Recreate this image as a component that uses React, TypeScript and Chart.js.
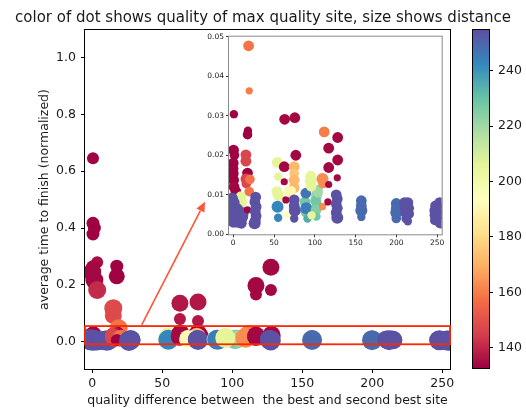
import React, { useEffect, useRef } from "react";
import { Chart, registerables } from "chart.js";
Chart.register(...registerables);

const FONT = '"DejaVu Sans", sans-serif';
const TEXT = "#1a1a1a";

const TITLE = "color of dot shows quality of max quality site, size shows distance";
const X_LABEL = "quality difference between  the best and second best site";
const Y_LABEL = "average time to finish (normalized)";

const xTicks = [0, 50, 100, 150, 200, 250];
const yTicks = [0, 0.2, 0.4, 0.6, 0.8, 1.0];
const insetYTicks = [0, 0.01, 0.02, 0.03, 0.04, 0.05];
const colorbarTicks = [140, 160, 180, 200, 220, 240];

// quality difference between best and second best site (x)
const qualityDiff = [
  0.5, 0.5, 1.5, 0.5, 3.5, 0.5, 0, 1.5, 3.5, 0.8, 0.4, 1.5, 0, 0.5, 0, 0.5, 1, 3.2, 9.3, 11.4, 8, 12,
  -1.5, 0.5, -2, 1.5, -1, 3, 0.5, 5, 7, 8.5, 10, 12.5, 11, 6, 9.8,
  17.5, 17.5, 15, 15, 18.8, 19.6, 18, 17.5, 15.5, 15.5, 17.5, 15.5, 16, 20.5, 19.6, 17.5,
  27.5, 26.5, 28, 27, 28, 27, 26.2,
  54.3, 54, 55, 53.5, 55.5, 54.3, 55,
  62.6, 62.6, 63, 62.5, 62.5, 64.5, 66.5, 68.6,
  75.5, 75.5, 75.5, 76.7, 74.7, 74.7, 74.7, 74.7, 71, 74.7, 74.7, 75.5, 74.7,
  88, 88.9, 91, 89, 89.5,
  103, 102, 101, 103, 101.5, 102, 104,
  95, 95, 95.5, 96,
  111.5, 109.4, 110, 109.4,
  116.9, 116.9, 117, 117, 117, 116,
  127.6, 127.6, 128, 128, 127.5, 127.5, 126.2, 127.5, 126.2, 127.5, 126.2, 127.5,
  157, 157, 157, 157,
  199.8, 199.8, 199.8, 199.8,
  210, 214, 211, 215, 212, 215, 212, 214,
  248, 253, 247, 254, 248, 254, 247, 254,
];

// average time to finish, normalized (y)
const avgTime = [
  0.646, 0.417, 0.4, 0.379, 0.28, 0.262, 0.245, 0.217, 0.182, 0.0304, 0.0213, 0.02, 0.018, 0.0166, 0.0154, 0.0137, 0.012, 0.0108, 0.0095, 0.0082, 0.007, 0.006,
  0.009, 0.008, 0.0068, 0.0058, 0.0048, 0.004, 0.0032, 0.0065, 0.005, 0.0038, 0.0028, 0.0055, 0.0045, 0.003, 0.004,
  0.266, 0.23, 0.118, 0.092, 0.0477, 0.0363, 0.0262, 0.0252, 0.0201, 0.0185, 0.0155, 0.014, 0.0128, 0.0139, 0.0108, 0.0062,
  0.0094, 0.0082, 0.007, 0.0058, 0.0046, 0.0035, 0.0028,
  0.0104, 0.0182, 0.0146, 0.0108, 0.0098, 0.007, 0.0042,
  0.135, 0.08, 0.0291, 0.0171, 0.0133, 0.0087, 0.0049, 0.0108,
  0.14, 0.073, 0.0295, 0.02, 0.0171, 0.0154, 0.0137, 0.0118, 0.011, 0.0087, 0.0072, 0.006, 0.004,
  0.0082, 0.0055, 0.004, 0.0104, 0.0066,
  0.0112, 0.0098, 0.0085, 0.0073, 0.0062, 0.0045, 0.0105,
  0.0147, 0.0135, 0.0122, 0.0048,
  0.0259, 0.014, 0.0128, 0.007,
  0.198, 0.166, 0.0218, 0.0169, 0.0126, 0.0082,
  0.262, 0.182, 0.0245, 0.0188, 0.0143, 0.0083, 0.01, 0.009, 0.0078, 0.0066, 0.0055, 0.0042,
  0.0085, 0.0072, 0.006, 0.0044,
  0.0078, 0.0066, 0.0055, 0.004,
  0.008, 0.008, 0.0068, 0.0066, 0.0055, 0.0052, 0.004, 0.0033,
  0.0072, 0.008, 0.006, 0.0065, 0.0048, 0.0052, 0.0035, 0.003,
];

// quality of the max quality site (colour)
const maxQuality = [
  133, 133, 133, 133, 135, 134, 134, 134, 141, 133, 133, 133, 133, 133, 133, 133, 134, 133, 206, 206, 206, 215,
  254, 254, 254, 254, 254, 254, 254, 254, 254, 254, 254, 254, 254, 254, 254,
  133, 133, 148, 148, 158, 160, 133, 133, 147, 147, 133, 147, 147, 158, 158, 133,
  254, 254, 254, 254, 254, 254, 254,
  254, 206, 206, 206, 206, 243, 243,
  137, 137, 134, 134, 134, 134, 195, 198,
  137, 137, 134, 134, 172, 175, 172, 172, 190, 254, 254, 254, 254,
  228, 228, 235, 247, 245,
  222, 222, 228, 228, 225, 228, 220,
  206, 206, 206, 206,
  160, 163, 163, 163,
  134, 134, 134, 134, 134, 134,
  134, 134, 134, 134, 134, 134, 254, 254, 254, 254, 254, 254,
  249, 249, 249, 249,
  249, 249, 249, 249,
  254, 254, 254, 254, 254, 254, 254, 254,
  254, 254, 254, 254, 254, 254, 254, 254,
];

// distance of the site (dot size)
const siteDistance = [
  6, 6.5, 6.5, 6.5, 6, 7, 9, 9, 9, 7, 9, 8, 9, 8, 9, 9, 9, 9, 9, 8, 8, 7,
  10, 10, 10, 10, 10, 10, 10, 9, 9, 9, 9, 9, 10, 9, 10,
  6.5, 8, 9, 8.5, 9, 6, 7, 8, 9, 9, 9, 9, 8, 8, 8, 6,
  9, 9, 9, 9, 9, 9, 10,
  8, 9, 7, 9, 9, 10, 7,
  8.5, 6, 9, 9, 6, 6, 6, 9,
  8.5, 6, 9, 9, 9, 8, 9, 9, 8, 9, 9, 10, 7,
  9, 8, 7, 9, 10,
  9, 9, 9, 9, 9, 7, 8,
  9, 10, 9, 7,
  9, 10, 8, 6,
  8.5, 6, 9, 9, 6, 6,
  8.5, 6, 9, 9, 6, 6, 9, 9, 9, 9, 9, 10,
  9, 9, 10, 7,
  9, 9, 10, 8,
  9, 9, 9, 9, 10, 9, 8, 7,
  9, 9, 9, 9, 10, 9, 8, 10,
];

const X_RANGE = [-5.2, 255.5];
const Y_RANGE = [-0.096, 1.097];
const INSET_Y_RANGE = [0, 0.05];
const Q_RANGE = [132.7, 254.7];
const ZOOM_BAND = [-0.009, 0.055];
const ARROW_FROM = [35.3, 0.059];
const ARROW_TO = [80.5, 0.493];

const SPECTRAL = [
  "#9e0142", "#d53e4f", "#f46d43", "#fdae61", "#fee08b", "#ffffbf",
  "#e6f598", "#abdda4", "#66c2a5", "#3288bd", "#5e4fa2",
];

function hexToRgb(h: string) {
  return [parseInt(h.slice(1, 3), 16), parseInt(h.slice(3, 5), 16), parseInt(h.slice(5, 7), 16)];
}

function spectral(t: number) {
  const tt = Math.min(1, Math.max(0, t));
  const p = tt * (SPECTRAL.length - 1);
  const i = Math.min(Math.floor(p), SPECTRAL.length - 2);
  const f = p - i;
  const a = hexToRgb(SPECTRAL[i]);
  const b = hexToRgb(SPECTRAL[i + 1]);
  const c = a.map((v, k) => Math.round(v + (b[k] - v) * f));
  return `rgb(${c[0]},${c[1]},${c[2]})`;
}

const tickGrid = (len: number, color: string) => ({
  drawOnChartArea: false,
  drawTicks: true,
  tickLength: len,
  color,
  lineWidth: 1,
});

export default function App() {
  const mainRef = useRef<HTMLCanvasElement>(null);
  const insetRef = useRef<HTMLCanvasElement>(null);
  const cbRef = useRef<HTMLCanvasElement>(null);

  useEffect(() => {
    const points = qualityDiff.map((x, i) => ({ x, y: avgTime[i] }));
    const colors = maxQuality.map((q) => spectral((q - Q_RANGE[0]) / (Q_RANGE[1] - Q_RANGE[0])));
    const mainRadii = siteDistance.map((d) => d);
    const insetRadii = siteDistance.map((d) => d * 0.6);

    const mainDecor = {
      id: "mainDecor",
      afterDatasetsDraw(chart: any) {
        const { ctx, chartArea: a, scales } = chart;
        const x = scales.x;
        const y = scales.y;
        ctx.save();
        ctx.strokeStyle = "#000";
        ctx.lineWidth = 1;
        ctx.strokeRect(a.left - 0.5, a.top - 0.5, a.right - a.left + 1, a.bottom - a.top + 1);

        // zoom band rectangle
        const bTop = y.getPixelForValue(ZOOM_BAND[1]);
        const bBot = y.getPixelForValue(ZOOM_BAND[0]);
        ctx.strokeStyle = "rgb(255,40,0)";
        ctx.lineWidth = 1.8;
        ctx.strokeRect(a.left, bTop, a.right - a.left, bBot - bTop);

        // arrow
        const x0 = x.getPixelForValue(ARROW_FROM[0]);
        const y0 = y.getPixelForValue(ARROW_FROM[1]);
        const x1 = x.getPixelForValue(ARROW_TO[0]);
        const y1 = y.getPixelForValue(ARROW_TO[1]);
        const ang = Math.atan2(y1 - y0, x1 - x0);
        const hl = 10;
        const hw = 4.5;
        const bx = x1 - hl * Math.cos(ang);
        const by = y1 - hl * Math.sin(ang);
        ctx.strokeStyle = "rgb(255,85,55)";
        ctx.fillStyle = "rgb(255,85,55)";
        ctx.lineWidth = 1.6;
        ctx.beginPath();
        ctx.moveTo(x0, y0);
        ctx.lineTo(bx, by);
        ctx.stroke();
        ctx.beginPath();
        ctx.moveTo(x1, y1);
        ctx.lineTo(bx + hw * Math.sin(ang), by - hw * Math.cos(ang));
        ctx.lineTo(bx - hw * Math.sin(ang), by + hw * Math.cos(ang));
        ctx.closePath();
        ctx.fill();
        ctx.restore();
      },
      afterDraw(chart: any) {
        const { ctx } = chart;
        ctx.save();
        ctx.font = `15px ${FONT}`;
        ctx.fillStyle = TEXT;
        ctx.textAlign = "center";
        ctx.textBaseline = "alphabetic";
        ctx.fillText(TITLE, 263, 21.5);
        ctx.restore();
      },
    };

    const main = new Chart(mainRef.current as HTMLCanvasElement, {
      type: "scatter",
      data: {
        datasets: [
          {
            data: points,
            pointRadius: mainRadii,
            pointHoverRadius: mainRadii,
            backgroundColor: colors,
            borderWidth: 0,
            clip: 0,
          } as any,
        ],
      },
      options: {
        responsive: false,
        animation: false,
        events: [],
        layout: { padding: { top: 30, right: 76, left: 0, bottom: 0 } },
        plugins: { legend: { display: false }, tooltip: { enabled: false } },
        scales: {
          x: {
            type: "linear",
            min: X_RANGE[0],
            max: X_RANGE[1],
            afterBuildTicks: (s: any) => {
              s.ticks = xTicks.map((v) => ({ value: v }));
            },
            afterFit: (s: any) => {
              s.height = 45;
            },
            grid: tickGrid(4, "#000"),
            border: { display: false },
            ticks: {
              font: { family: FONT, size: 12.5 },
              color: TEXT,
              padding: 3,
              autoSkip: false,
              maxRotation: 0,
              callback: (v: any) => String(v),
            },
            title: {
              display: true,
              text: X_LABEL,
              font: { family: FONT, size: 12.5 },
              color: TEXT,
              padding: { top: 0, bottom: 6 },
            },
          },
          y: {
            type: "linear",
            min: Y_RANGE[0],
            max: Y_RANGE[1],
            afterBuildTicks: (s: any) => {
              s.ticks = yTicks.map((v) => ({ value: v }));
            },
            afterFit: (s: any) => {
              s.width = 85;
            },
            grid: tickGrid(4, "#000"),
            border: { display: false },
            ticks: {
              font: { family: FONT, size: 12.5 },
              color: TEXT,
              padding: 5,
              autoSkip: false,
              callback: (v: any) => Number(v).toFixed(1),
            },
            title: {
              display: true,
              text: Y_LABEL,
              font: { family: FONT, size: 12.5 },
              color: TEXT,
              padding: { top: 37, bottom: 0 },
            },
          },
        },
      },
      plugins: [mainDecor],
    });

    const insetDecor = {
      id: "insetDecor",
      beforeDraw(chart: any) {
        const { ctx, chartArea: a } = chart;
        ctx.save();
        ctx.fillStyle = "#fff";
        ctx.fillRect(a.left, a.top, a.right - a.left, a.bottom - a.top);
        ctx.restore();
      },
      afterDatasetsDraw(chart: any) {
        const { ctx, chartArea: a } = chart;
        ctx.save();
        ctx.strokeStyle = "#8a8a8a";
        ctx.lineWidth = 1;
        ctx.strokeRect(a.left - 0.5, a.top - 0.5, a.right - a.left + 1, a.bottom - a.top + 1);
        ctx.restore();
      },
    };

    const inset = new Chart(insetRef.current as HTMLCanvasElement, {
      type: "scatter",
      data: {
        datasets: [
          {
            data: points,
            pointRadius: insetRadii,
            pointHoverRadius: insetRadii,
            backgroundColor: colors,
            borderWidth: 0,
            clip: 0,
          } as any,
        ],
      },
      options: {
        responsive: false,
        animation: false,
        events: [],
        layout: { padding: { top: 6.7, right: 8.3, left: 0, bottom: 0 } },
        plugins: { legend: { display: false }, tooltip: { enabled: false } },
        scales: {
          x: {
            type: "linear",
            min: X_RANGE[0],
            max: X_RANGE[1],
            afterBuildTicks: (s: any) => {
              s.ticks = xTicks.map((v) => ({ value: v }));
            },
            afterFit: (s: any) => {
              s.height = 20.7;
            },
            grid: tickGrid(3, "#333"),
            border: { display: false },
            ticks: {
              font: { family: FONT, size: 7.5 },
              color: TEXT,
              padding: 1,
              autoSkip: false,
              maxRotation: 0,
              callback: (v: any) => String(v),
            },
          },
          y: {
            type: "linear",
            min: INSET_Y_RANGE[0],
            max: INSET_Y_RANGE[1],
            afterBuildTicks: (s: any) => {
              s.ticks = insetYTicks.map((v) => ({ value: v }));
            },
            afterFit: (s: any) => {
              s.width = 39;
            },
            grid: tickGrid(3, "#333"),
            border: { display: false },
            ticks: {
              font: { family: FONT, size: 7.5 },
              color: TEXT,
              padding: 2,
              autoSkip: false,
              callback: (v: any) => Number(v).toFixed(2),
            },
          },
        },
      },
      plugins: [insetDecor],
    });

    const cbDecor = {
      id: "cbDecor",
      beforeDatasetsDraw(chart: any) {
        const { ctx, chartArea: a } = chart;
        ctx.save();
        const g = ctx.createLinearGradient(0, a.bottom, 0, a.top);
        SPECTRAL.forEach((c, i) => g.addColorStop(i / (SPECTRAL.length - 1), c));
        ctx.fillStyle = g;
        ctx.fillRect(a.left, a.top, a.right - a.left, a.bottom - a.top);
        ctx.strokeStyle = "#000";
        ctx.lineWidth = 1;
        ctx.strokeRect(a.left - 0.5, a.top - 0.5, a.right - a.left + 1, a.bottom - a.top + 1);
        ctx.restore();
      },
    };

    const cb = new Chart(cbRef.current as HTMLCanvasElement, {
      type: "scatter",
      data: { datasets: [] },
      options: {
        responsive: false,
        animation: false,
        events: [],
        layout: { padding: { top: 30, right: 0, left: 23, bottom: 46 } },
        plugins: { legend: { display: false }, tooltip: { enabled: false } },
        scales: {
          x: { type: "linear", display: false, min: 0, max: 1 },
          y: {
            type: "linear",
            position: "right",
            min: Q_RANGE[0],
            max: Q_RANGE[1],
            afterBuildTicks: (s: any) => {
              s.ticks = colorbarTicks.map((v) => ({ value: v }));
            },
            afterFit: (s: any) => {
              s.width = 37;
            },
            grid: tickGrid(4, "#000"),
            border: { display: false },
            ticks: {
              font: { family: FONT, size: 12.5 },
              color: TEXT,
              padding: 5,
              autoSkip: false,
              callback: (v: any) => String(v),
            },
          },
        },
      },
      plugins: [cbDecor],
    });

    return () => {
      main.destroy();
      inset.destroy();
      cb.destroy();
    };
  }, []);

  return (
    <div style={{ position: "fixed", left: 0, top: 0, width: 526, height: 414, background: "#fff" }}>
      <canvas ref={mainRef} width={526} height={414} style={{ position: "absolute", left: 0, top: 0 }} />
      <canvas ref={insetRef} width={260} height={225} style={{ position: "absolute", left: 190, top: 30 }} />
      <canvas ref={cbRef} width={76} height={414} style={{ position: "absolute", left: 450, top: 0 }} />
    </div>
  );
}
